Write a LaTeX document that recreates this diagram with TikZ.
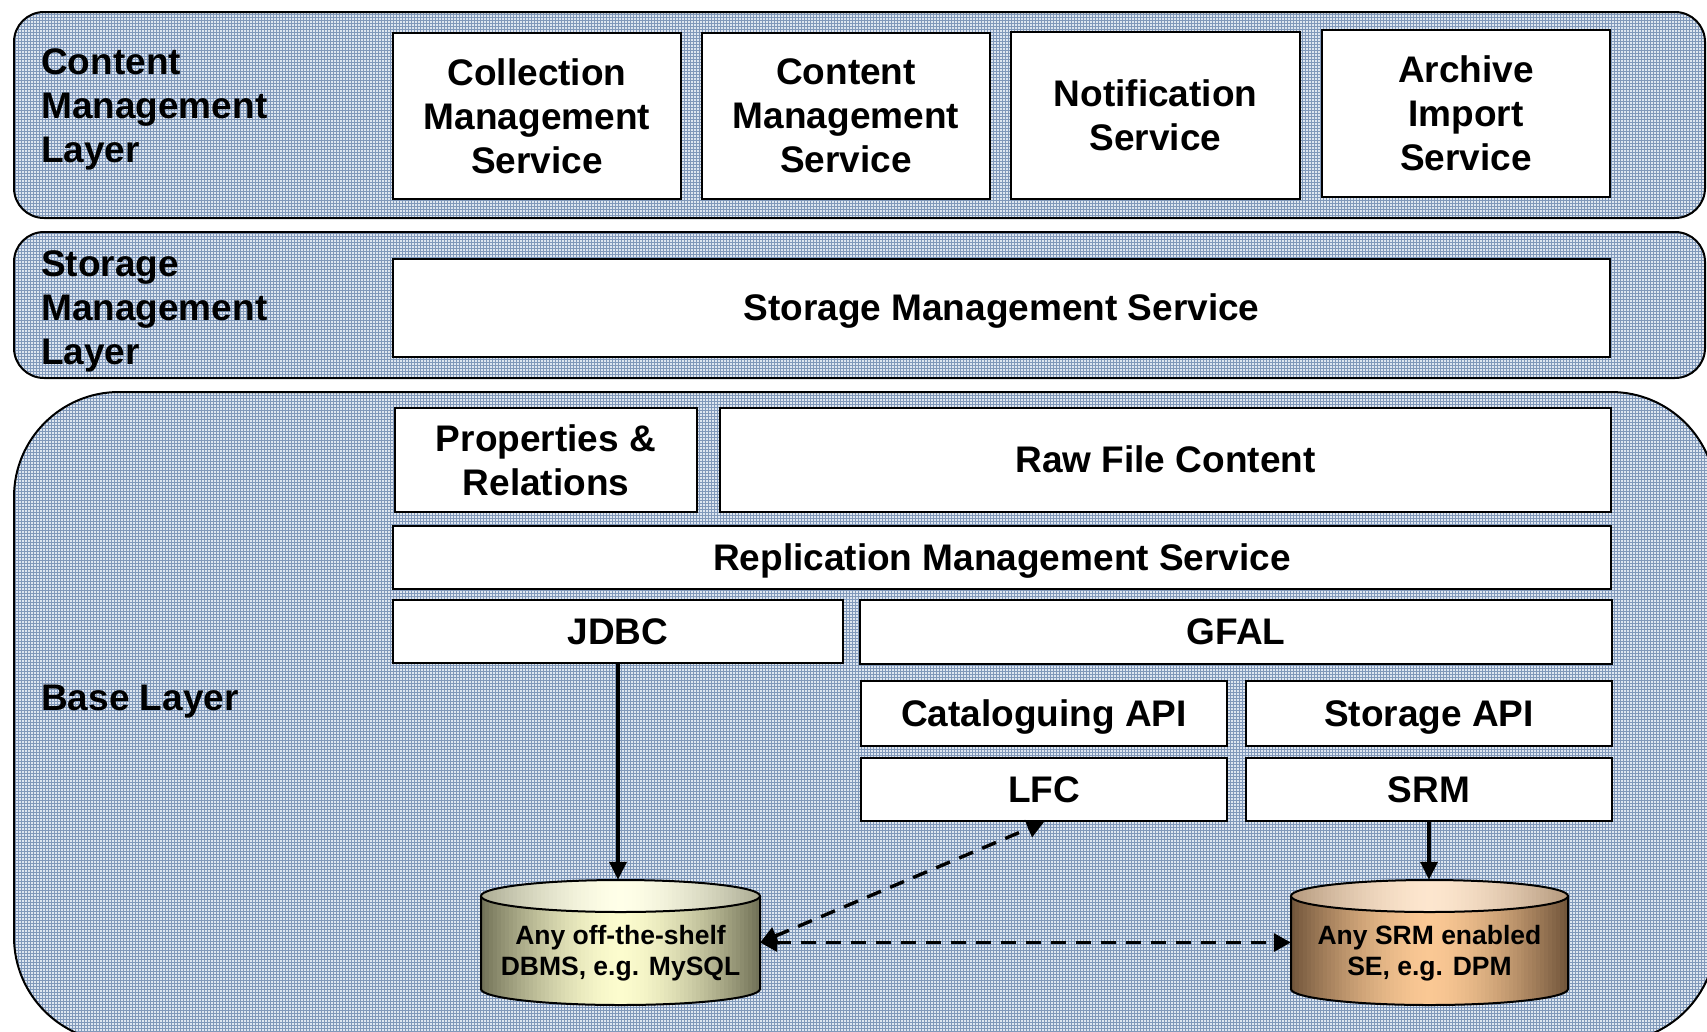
\documentclass[tikz,border=0pt]{standalone}
\usepackage{fontspec}
\setmainfont{Liberation Sans}
\usetikzlibrary{arrows.meta,patterns,calc}

\definecolor{layerfill}{RGB}{222,230,240}
\definecolor{layergrid}{RGB}{128,152,186}
\definecolor{dbdark}{RGB}{112,112,86}
\definecolor{dblight}{RGB}{252,252,206}
\definecolor{dblidd}{RGB}{170,170,146}
\definecolor{dblidl}{RGB}{255,255,232}
\definecolor{sedark}{RGB}{112,84,58}
\definecolor{selight}{RGB}{250,200,148}
\definecolor{selidd}{RGB}{180,152,124}
\definecolor{selidl}{RGB}{253,230,206}

% side-to-side colour ramp made of thin vertical strips:
% #1 centre x, #2 half width, #3 edge colour, #4 centre colour, #5 top y, #6 bottom y
\newcommand\striperamp[6]{%
  \foreach \k in {0,...,69} {%
    \pgfmathsetmacro\rampt{abs(\k+0.5-35)/35}%
    \pgfmathsetmacro\rampp{100*(\rampt^1.6)}%
    \pgfmathsetmacro\rampx{#1-#2+\k*(#2/35)}%
    \pgfmathsetmacro\rampw{#2/35+0.8}%
    \fill[#3!\rampp!#4] (\rampx,#5) rectangle (\rampx+\rampw,#6);
  }%
}

% cylinder: #1 centre x, #2 half width, #3/#4 body edge/centre colour, #5/#6 lid edge/centre colour
\newcommand\storecyl[6]{%
  \begin{scope}
    \clip (#1-#2,-896) -- (#1-#2,-989)
      arc[start angle=180, end angle=360, x radius=#2, y radius=16]
      -- (#1+#2,-896) -- cycle;
    \striperamp{#1}{#2}{#3}{#4}{-870}{-1010}
  \end{scope}
  \draw[line width=2pt] (#1-#2,-896) -- (#1-#2,-989)
      arc[start angle=180, end angle=360, x radius=#2, y radius=16]
      -- (#1+#2,-896);
  \begin{scope}
    \clip (#1,-896) ellipse[x radius=#2, y radius=16];
    \striperamp{#1}{#2}{#5}{#6}{-878}{-914}
  \end{scope}
  \draw[line width=2pt] (#1,-896) ellipse[x radius=#2, y radius=16];
}

\tikzset{
  bigtxt/.style={font=\fontsize{37}{44}\selectfont\bfseries},
  smalltxt/.style={font=\fontsize{26.5}{31}\selectfont\bfseries},
  layer/.style={line width=2pt, preaction={fill=layerfill},
    preaction={pattern=grid, pattern color=layergrid}},
  layerlabel/.style={bigtxt, align=left, inner sep=0pt},
  svcbox/.style={draw, line width=2pt, fill=white, align=center, inner sep=0pt, bigtxt},
  oneline/.style={text height=33.5pt, text depth=7.8pt},
  cylframe/.style={inner sep=0pt, minimum height=125, draw=none},
  conn/.style={line width=3.4pt, -{Triangle[length=18pt,width=17pt]}},
  dconn/.style={line width=3.4pt, dash pattern=on 15pt off 10pt,
    {Triangle[length=17pt,width=18pt]}-{Triangle[length=17pt,width=18pt]}},
}

\begin{document}
\begin{tikzpicture}[x=1pt, y=1pt]
\useasboundingbox (0,0) rectangle (1707,-1031);
\clip (0,0) rectangle (1707,-1031);

% the three layers
\draw[layer, rounded corners=30] (14,-12) rectangle (1705,-218);
\draw[layer, rounded corners=30] (14,-232) rectangle (1705,-378);
\draw[layer, rounded corners=105] (14,-392) rectangle (1716,-1042);

\node[layerlabel, anchor=north west] (lblcm) at (41,-48) {Content\\Management\\Layer};
\node[layerlabel, anchor=north west] (lblsm) at (41,-250) {Storage\\Management\\Layer};
\node[layerlabel, anchor=west] (lblbase) at (41,-702) {Base Layer};

% content management layer
\node[svcbox, minimum width=288, minimum height=166] (coll) at (537,-116) {Collection\\Management\\Service};
\node[svcbox, minimum width=288, minimum height=166] (cont) at (846,-116) {Content\\Management\\Service};
\node[svcbox, minimum width=289, minimum height=167] (notif) at (1155.5,-115) {Notification\\Service};
\node[svcbox, minimum width=288, minimum height=167] (arch) at (1466,-113.5) {Archive\\Import\\Service};

% storage management layer
\node[svcbox, oneline, minimum width=1217, minimum height=98] (sms) at (1001.5,-308) {Storage Management Service};

% base layer
\node[svcbox, minimum width=302, minimum height=104] (props) at (546,-460) {Properties \&\\Relations};
\node[svcbox, oneline, minimum width=891, minimum height=104] (raw) at (1165.5,-460) {Raw File Content};
\node[svcbox, oneline, minimum width=1218, minimum height=63] (rms) at (1002,-557.5) {Replication Management Service};
\node[svcbox, oneline, minimum width=450, minimum height=63] (jdbc) at (618,-631.5) {JDBC};
\node[svcbox, oneline, minimum width=752, minimum height=64] (gfal) at (1236,-632) {GFAL};
\node[svcbox, oneline, minimum width=366, minimum height=65] (catapi) at (1044,-713.5) {Cataloguing API};
\node[svcbox, oneline, minimum width=366, minimum height=65] (stapi) at (1429,-713.5) {Storage API};
\node[svcbox, oneline, minimum width=366, minimum height=63] (lfc) at (1044,-789.5) {LFC};
\node[svcbox, oneline, minimum width=366, minimum height=63] (srm) at (1429,-789.5) {SRM};

% storage back ends
\storecyl{620.5}{139.5}{dbdark}{dblight}{dblidd}{dblidl}
\storecyl{1429.5}{138.5}{sedark}{selight}{selidd}{selidl}
\node[cylframe, minimum width=279] (dbms) at (620.5,-942.5) {};
\node[cylframe, minimum width=277] (se) at (1429.5,-942.5) {};
\node[smalltxt, align=center, inner sep=0pt] (dbmstxt) at (620.5,-953) {Any off-the-shelf\\DBMS, e.g. MySQL};
\node[smalltxt, align=center, inner sep=0pt] (setxt) at (1429.5,-953) {Any SRM enabled\\SE, e.g. DPM};

% connectors
\draw[conn] (jdbc.south) -- (jdbc.south |- dbms.north);
\draw[conn] (srm.south) -- (srm.south |- se.north);
\draw[dconn] (dbms.east) -- (se.west);
\draw[dconn] (dbms.east) -- (lfc.south);
\end{tikzpicture}
\end{document}
